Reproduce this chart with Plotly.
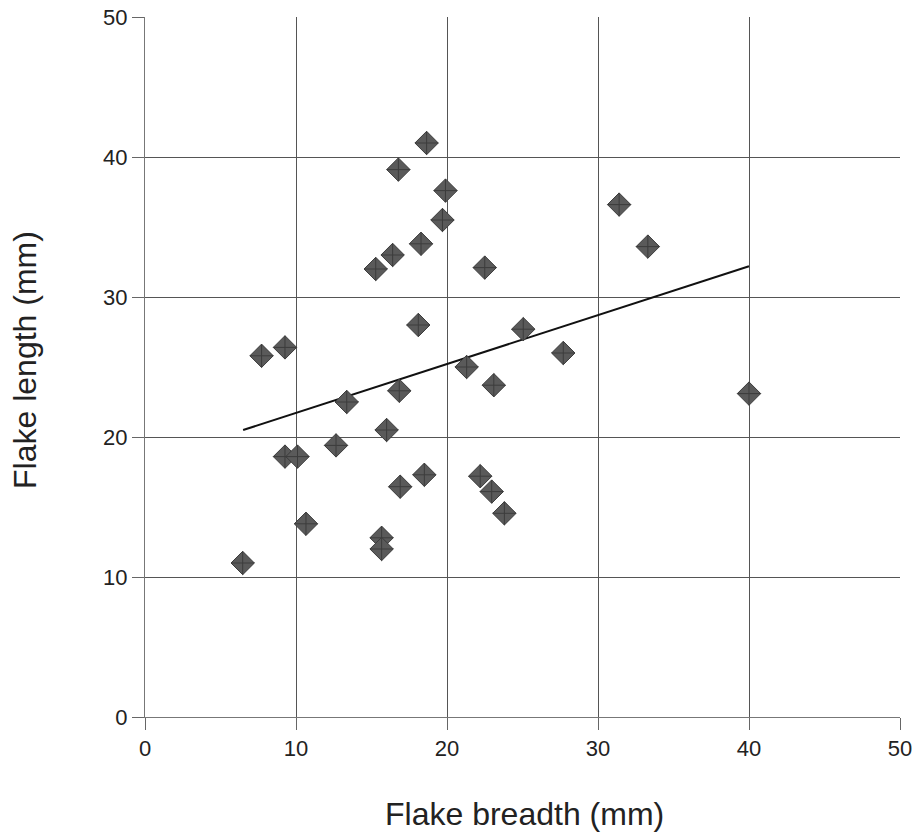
import plotly.graph_objects as go

breadth = [7.72, 9.27, 13.36, 16.84, 16.0, 9.27, 10.1, 12.65, 16.9, 18.5, 10.66, 15.67, 15.67, 6.47, 18.1,
           18.65, 16.78, 19.9, 19.7, 18.28, 16.4, 15.28, 22.5,
           25.05, 27.7, 21.3, 23.1, 22.2, 22.96, 23.8,
           31.4, 33.3, 40.0]
length = [25.8, 26.4, 22.5, 23.3, 20.5, 18.6, 18.6, 19.4, 16.45, 17.3, 13.8, 12.8, 12.0, 11.0, 28.0,
          41.0, 39.1, 37.6, 35.5, 33.8, 33.0, 32.0, 32.1,
          27.7, 26.0, 25.0, 23.7, 17.2, 16.1, 14.55,
          36.6, 33.6, 23.1]

trend_x = [6.5, 40.0]
trend_y = [20.5, 32.2]

x_title = "Flake breadth (mm)"
y_title = "Flake length (mm)"

fig = go.Figure()
fig.add_trace(go.Scatter(x=trend_x, y=trend_y, mode="lines",
                         line=dict(color="#111111", width=2), showlegend=False))
fig.add_trace(go.Scatter(x=breadth, y=length, mode="markers",
                         marker=dict(symbol="diamond-cross", size=18, color="#5a5a5a",
                                     line=dict(color="#3c3c3c", width=1)),
                         showlegend=False))

FONT = "Liberation Sans, Arial, sans-serif"
axis_common = dict(
    range=[0, 50], dtick=10, tick0=0,
    showgrid=True, gridcolor="#555555", gridwidth=1,
    zeroline=False, showline=True, linecolor="#777777", linewidth=1,
    ticks="outside", ticklen=12, tickcolor="#666666",
    ticklabeloverflow="allow",
    tickfont=dict(family=FONT, size=22, color="#222222"),
)

fig.update_layout(
    width=918, height=838,
    margin=dict(l=145, r=18, t=17, b=121, autoexpand=False),
    paper_bgcolor="white", plot_bgcolor="white",
    xaxis=dict(**axis_common),
    yaxis=dict(**axis_common),
    annotations=[
        dict(text=x_title, xref="paper", yref="paper", x=0.503, y=-0.138,
             xanchor="center", yanchor="middle", showarrow=False,
             font=dict(family=FONT, size=32, color="#222222")),
        dict(text=y_title, xref="paper", yref="paper", x=-0.159, y=0.51,
             xanchor="center", yanchor="middle", textangle=-90, showarrow=False,
             font=dict(family=FONT, size=32, color="#222222")),
    ],
)

fig.write_html(
    "out.html",
    config={"displayModeBar": False},
    post_script="document.body.style.margin='0';document.documentElement.style.overflow='hidden';",
)
